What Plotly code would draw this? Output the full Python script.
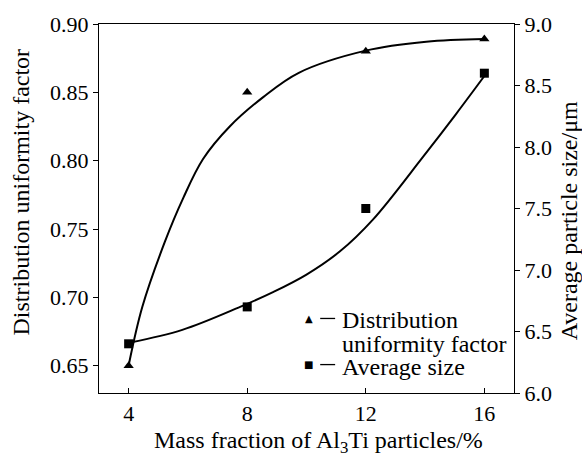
import plotly.graph_objects as go

# Measured data points
mass_fraction = [4, 8, 12, 16]
uniformity = [0.65, 0.85, 0.88, 0.889]
avg_size = [6.4, 6.7, 7.5, 8.6]

# Fitted curves
uni_fit_x = [4.01, 4.46, 5.22, 5.84, 6.51, 7.41, 8.54, 9.74, 12.0, 14.04, 16.0]
uni_fit_y = [0.6512, 0.6929, 0.7405, 0.7726, 0.8012, 0.825, 0.8465, 0.8643, 0.8805, 0.887, 0.889]
size_fit_x = [4.05, 5.81, 7.76, 8.87, 10.0, 11.12, 12.24, 13.93, 15.05, 16.0]
size_fit_y = [6.41, 6.513, 6.70, 6.82, 6.963, 7.15, 7.41, 7.92, 8.27, 8.577]

x_ticks = [4, 8, 12, 16]
y1_ticks = [0.65, 0.70, 0.75, 0.80, 0.85, 0.90]
y2_ticks = [6.0, 6.5, 7.0, 7.5, 8.0, 8.5, 9.0]

x_title = "Mass fraction of Al<sub>3</sub>Ti particles/%"
y1_title = "Distribution uniformity factor"
y2_title = "Average particle size/μm"

FONT = "Times New Roman, serif"
FS_TICK = 22
FS_TEXT = 24

fig = go.Figure()
fig.add_trace(go.Scatter(x=uni_fit_x, y=uni_fit_y, mode="lines", line=dict(color="black", width=2, shape="spline"),
                         showlegend=False, hoverinfo="skip"))
fig.add_trace(go.Scatter(x=mass_fraction, y=uniformity, mode="markers",
                         marker=dict(symbol="triangle-up", size=9, color="black"), showlegend=False))
fig.add_trace(go.Scatter(x=size_fit_x, y=size_fit_y, mode="lines", line=dict(color="black", width=2, shape="spline"),
                         yaxis="y2", showlegend=False, hoverinfo="skip"))
fig.add_trace(go.Scatter(x=mass_fraction, y=avg_size, mode="markers", yaxis="y2",
                         marker=dict(symbol="square", size=9, color="black"), showlegend=False))

axis_common = dict(showline=True, linecolor="black", linewidth=1.3, showgrid=False, zeroline=False,
                   ticklen=5, tickwidth=1.3, tickcolor="black",
                   tickfont=dict(family=FONT, size=FS_TICK, color="black"))

fig.update_layout(
    width=582, height=457,
    margin=dict(l=99, r=68, t=15, b=64),
    paper_bgcolor="white", plot_bgcolor="white",
    font=dict(family=FONT, size=FS_TICK, color="black"),
    xaxis=dict(**axis_common, range=[3, 17], tickvals=x_ticks, mirror=True, ticks="inside"),
    yaxis=dict(**axis_common, range=[0.63, 0.90], tickvals=y1_ticks, tickformat=".2f", ticks="outside"),
    yaxis2=dict(**axis_common, range=[6.0, 9.0], tickvals=y2_ticks, tickformat=".1f", overlaying="y", side="right",
                ticks="outside"),
)

# Axis titles as annotations (positions match the reference)
fig.add_annotation(x=0.528, y=-0.132, xref="paper", yref="paper", text=x_title, showarrow=False,
                   font=dict(family=FONT, size=FS_TEXT, color="black"), xanchor="center", yanchor="middle")
fig.add_annotation(x=-0.188, y=0.546, xref="paper", yref="paper", text=y1_title, showarrow=False, textangle=-90,
                   font=dict(family=FONT, size=FS_TEXT, color="black"), xanchor="center", yanchor="middle")
fig.add_annotation(x=1.133, y=0.466, xref="paper", yref="paper", text=y2_title, showarrow=False, textangle=-90,
                   font=dict(family=FONT, size=FS_TEXT, color="black"), xanchor="center", yanchor="middle")

# Manual legend
marker_items = [("▲", 0.202), ("■", 0.077)]
for sym, ym in marker_items:
    fig.add_annotation(x=0.506, y=ym, xref="paper", yref="paper", text=sym, showarrow=False,
                       font=dict(family="DejaVu Sans", size=10, color="black"), xanchor="center", yanchor="middle")
    fig.add_shape(type="line", xref="paper", yref="paper", x0=0.533, x1=0.569, y0=ym, y1=ym,
                  line=dict(color="black", width=1.3))
legend_lines = [("Distribution", 0.198), ("uniformity factor", 0.133), ("Average size", 0.071)]
for label, yt in legend_lines:
    fig.add_annotation(x=0.581, y=yt, xref="paper", yref="paper", text=label, showarrow=False, align="left",
                       font=dict(family=FONT, size=FS_TEXT, color="black"), xanchor="left", yanchor="middle")

fig.write_html("out.html")
